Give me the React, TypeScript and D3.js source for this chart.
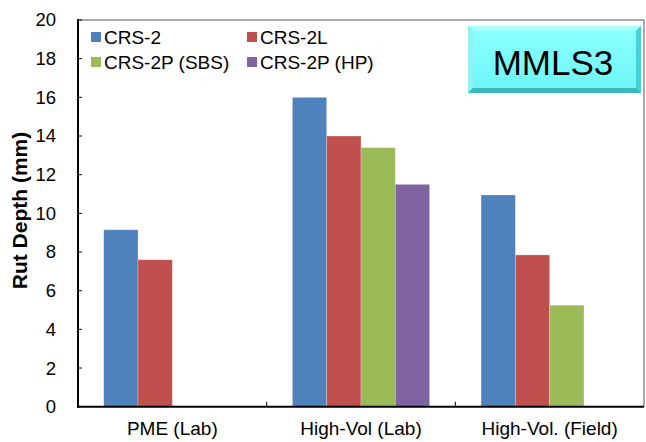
import React from "react";
import * as d3 from "d3";

const categories = ["PME (Lab)", "High-Vol (Lab)", "High-Vol. (Field)"];
const seriesNames = ["CRS-2", "CRS-2L", "CRS-2P (SBS)", "CRS-2P (HP)"];
const seriesColors = ["#4F81BD", "#C0504D", "#9BBB59", "#8064A2"];
const crs2 = [9.15, 16.0, 10.95];
const crs2L = [7.6, 14.0, 7.85];
const crs2PSBS = [null, 13.4, 5.25];
const crs2PHP = [null, 11.5, null];
const yTicks = [0, 2, 4, 6, 8, 10, 12, 14, 16, 18, 20];

const seriesValues: (number | null)[][] = [crs2, crs2L, crs2PSBS, crs2PHP];

const W = 646;
const H = 442;
const left = 78;
const right = 644;
const top = 20;
const bottom = 406.7;
const font = "'Liberation Sans', Arial, sans-serif";

export default function App() {
  const x = d3.scaleBand<string>().domain(categories).range([left, right]).paddingInner(0).paddingOuter(0);
  const bw = x.bandwidth();
  const barW = bw / (seriesNames.length + 1.5);
  const y = d3.scaleLinear().domain([0, 20]).range([bottom, top]);

  return (
    <svg width={W} height={H} style={{ position: "absolute", left: 0, top: 0, background: "#fff" }}>
      <defs>
        <linearGradient id="boxFill" x1="0" y1="0" x2="0" y2="1">
          <stop offset="0" stopColor="#8AFFFF" />
          <stop offset="1" stopColor="#6EF6F8" />
        </linearGradient>
      </defs>
      {/* plot frame */}
      <line x1={left} x2={right} y1={top} y2={top} stroke="#555" strokeWidth={1} />
      <line x1={right} x2={right} y1={top} y2={bottom} stroke="#555" strokeWidth={1} />

      {/* bars */}
      {seriesValues.map((vals, si) =>
        vals.map((v, ci) =>
          v == null ? null : (
            <rect
              key={`${si}-${ci}`}
              x={(x(categories[ci]) as number) + barW * 0.75 + si * barW}
              y={y(v)}
              width={barW}
              height={bottom - y(v)}
              fill={seriesColors[si]}
              stroke="rgba(255,255,255,0.35)"
              strokeWidth={0.75}
            />
          )
        )
      )}

      {/* y axis */}
      <line x1={left} x2={left} y1={top - 1} y2={bottom + 1} stroke="#000" strokeWidth={2} />
      {yTicks.map((t) => (
        <g key={t}>
          <line x1={left} x2={left + 4} y1={y(t)} y2={y(t)} stroke="#000" strokeWidth={1} />
          <text x={left - 22} y={y(t)} dy="0.35em" textAnchor="end" fontFamily={font} fontSize={18.5} fill="#000">
            {t}
          </text>
        </g>
      ))}

      {/* x axis */}
      <line x1={left - 1} x2={right} y1={bottom} y2={bottom} stroke="#000" strokeWidth={2} />
      {categories.map((c, i) => (
        <g key={c}>
          {i > 0 && (
            <line
              x1={x(c) as number}
              x2={x(c) as number}
              y1={bottom}
              y2={bottom - 5}
              stroke="#000"
              strokeWidth={1}
            />
          )}
          <text
            x={(x(c) as number) + bw / 2}
            y={428}
            dy="0.35em"
            textAnchor="middle"
            fontFamily={font}
            fontSize={19}
            fill="#000"
          >
            {c}
          </text>
        </g>
      ))}

      {/* y title */}
      <text
        transform={`translate(19.5,${(128 + 293) / 2}) rotate(-90)`}
        textAnchor="middle"
        dy="0.35em"
        fontFamily={font}
        fontSize={21}
        fontWeight="bold"
        fill="#000"
      >
        Rut Depth (mm)
      </text>

      {/* legend */}
      {seriesNames.map((s, i) => {
        const lx = i % 2 === 0 ? 91 : 247;
        const ly = i < 2 ? 37 : 62;
        return (
          <g key={s}>
            <rect x={lx} y={ly - 5} width={10} height={10} fill={seriesColors[i]} />
            <text x={lx + 13} y={ly} dy="0.35em" fontFamily={font} fontSize={19} fill="#000">
              {s}
            </text>
          </g>
        );
      })}

      {/* MMLS3 badge */}
      <g>
        <rect x={468} y={26} width={173} height={67} fill="#3FC8CC" />
        <polygon points="468,26 641,26 636,31 473,31" fill="#A8FFFF" />
        <polygon points="468,26 473,31 473,88 468,93" fill="#8EF2F4" />
        <polygon points="641,26 641,93 636,88 636,31" fill="#45D2D6" />
        <polygon points="468,93 641,93 636,88 473,88" fill="#3CB9BE" />
        <rect x={473} y={31} width={163} height={57} fill="url(#boxFill)" />
        <text x={553} y={63} dy="0.35em" textAnchor="middle" fontFamily={font} fontSize={35} fill="#000">
          MMLS3
        </text>
      </g>
    </svg>
  );
}
